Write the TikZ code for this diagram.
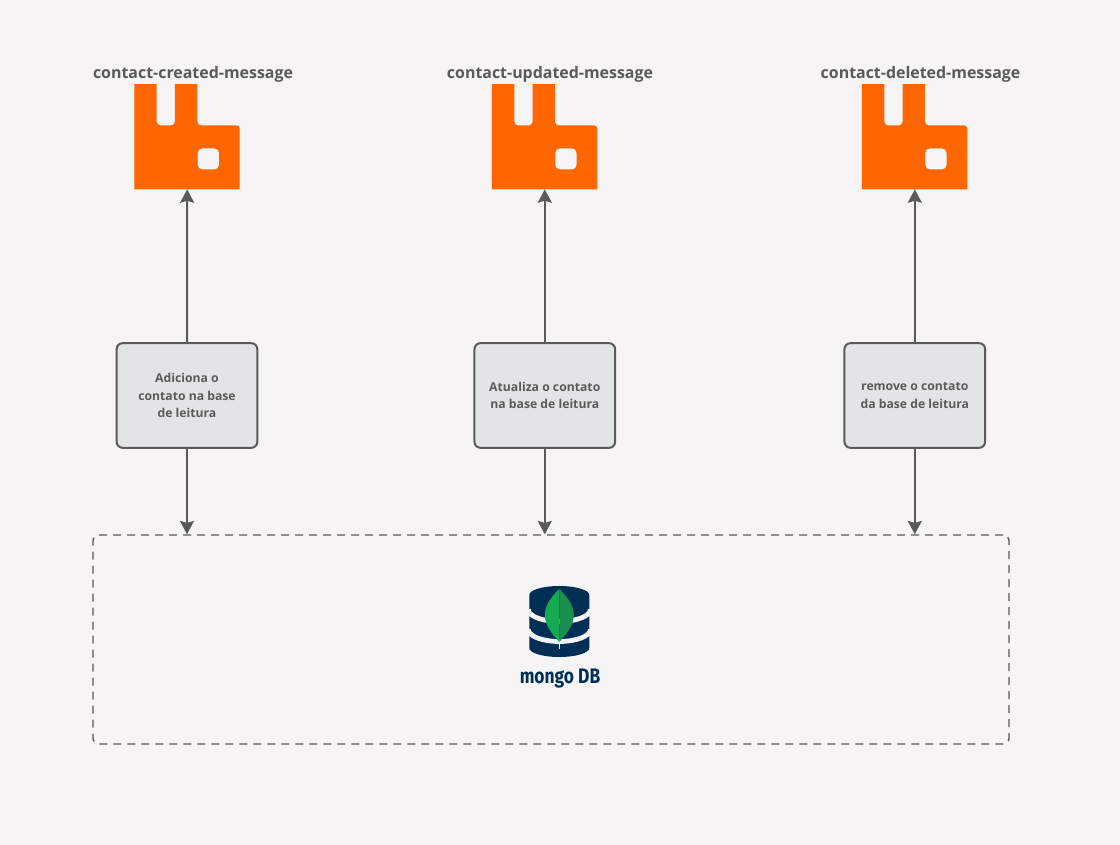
\documentclass[tikz,border=0pt]{standalone}
\usepackage{fontspec}
\setmainfont{Open Sans}
\newfontfamily\logofont{Fira Sans}
\usetikzlibrary{arrows.meta}
\definecolor{pagebg}{HTML}{F6F4F5}
\definecolor{boxfill}{HTML}{E2E4E5}
\definecolor{linegray}{HTML}{5A5A5A}
\definecolor{rabbitorange}{HTML}{FF6600}
\definecolor{mongonavy}{HTML}{002F55}
\definecolor{leaflight}{HTML}{13AA52}
\definecolor{leafdark}{HTML}{1B8F4E}

% rabbit logo, drawn on top of an empty node
\newcommand{\rabbitlogo}[1]{
\begin{scope}[shift={(#1.south west)}]
\fill [rabbitorange] (0,0) -- (0,105.3) -- (22.4,105.3) -- (22.4,68) to[out=-90,in=180] (26,64) -- (37,64) to[out=0,in=-90] (40.7,68) -- (40.7,105.3) -- (63,105.3) -- (63,68) to[out=-90,in=180] (67,64) -- (102,64) to[out=0,in=90] (105.4,61) -- (105.4,0) -- cycle;
\fill [pagebg, rounded corners=3.5pt] (63.4,20) rectangle (84.7,41);
\end{scope}
}

\begin{document}
\begin{tikzpicture}[x=0.75pt, y=0.75pt, line join=round]
\tikzstyle{queue_logo}=[rectangle, inner sep=0pt, minimum width=79pt, minimum height=79pt]
\tikzstyle{queue_name}=[font=\fontsize{11.95pt}{15pt}\selectfont\bfseries, text=linegray, inner sep=0pt]
\tikzstyle{handler}=[rectangle, rounded corners=4.5pt, draw=linegray, fill=boxfill, line width=1.5pt, minimum width=105.5pt, minimum height=78.5pt, align=center, font=\fontsize{9.15pt}{13pt}\selectfont\bfseries, text=linegray, inner sep=0pt]
\tikzstyle{read_base}=[rectangle, rounded corners=4.5pt, draw=linegray, line width=1.1pt, dash pattern=on 6pt off 4.5pt, minimum width=687pt, minimum height=156.75pt, inner sep=0pt]
\tikzstyle{flow}=[draw=linegray, line width=1.5pt, -{Stealth[length=10pt, width=10.5pt, inset=1.5pt]}]
%
\fill [pagebg] (0,0) rectangle (1120,845);
\useasboundingbox (0,0) rectangle (1120,845);
%
\node [queue_logo] (rabbit_created) at (187.2,708.5) {};
\node [queue_logo] (rabbit_updated) at (544.8,708.5) {};
\node [queue_logo] (rabbit_deleted) at (914.8,708.5) {};
\rabbitlogo{rabbit_created}
\rabbitlogo{rabbit_updated}
\rabbitlogo{rabbit_deleted}
%
\node [queue_name] (name_created) at (193,771) {contact-created-message};
\node [queue_name] (name_updated) at (550,771) {contact-updated-message};
\node [queue_name] (name_deleted) at (920.5,771) {contact-deleted-message};
%
\node [handler] (add_contact) at (187,449.5) {Adiciona o\\contato na base\\de leitura};
\node [handler] (update_contact) at (544.8,449.5) {Atualiza o contato\\na base de leitura};
\node [handler] (remove_contact) at (914.8,449.5) {remove o contato\\da base de leitura};
%
\node [read_base] (read_db) at (551,205.5) {};
%
\draw [flow] (add_contact) -- (rabbit_created);
\draw [flow] (update_contact) -- (rabbit_updated);
\draw [flow] (remove_contact) -- (rabbit_deleted);
\draw [flow] (add_contact) -- (add_contact |- read_db.north);
\draw [flow] (update_contact) -- (update_contact |- read_db.north);
\draw [flow] (remove_contact) -- (remove_contact |- read_db.north);
%
\begin{scope}[shift={(559.3,223)}]
\fill [mongonavy] (-30,27) arc[start angle=180, end angle=0, x radius=30, y radius=9] -- (30,-26) arc[start angle=360, end angle=180, x radius=30, y radius=9] -- cycle;
\draw [pagebg, line width=3.6pt] (-31,12.5) arc[start angle=180, end angle=360, x radius=31, y radius=12];
\draw [pagebg, line width=3.6pt] (-31,-7.5) arc[start angle=180, end angle=360, x radius=31, y radius=12];
\draw [pagebg, line width=0.6pt] (0,-19) -- (0,-27);
\fill [leaflight] (0,33) .. controls (-8,25) and (-14.5,17) .. (-14.5,7) .. controls (-14.5,-4) and (-6,-13) .. (0,-20) -- cycle;
\fill [leafdark] (0,33) .. controls (8,25) and (14.5,17) .. (14.5,7) .. controls (14.5,-4) and (6,-13) .. (0,-20) -- cycle;
\end{scope}
\node [inner sep=0pt, text=mongonavy, xscale=0.87, yscale=1.05, font=\logofont\bfseries\fontsize{15pt}{16pt}\selectfont] (mongo_label) at (560,166.5) {mongo DB};
%
\end{tikzpicture}
\end{document}
